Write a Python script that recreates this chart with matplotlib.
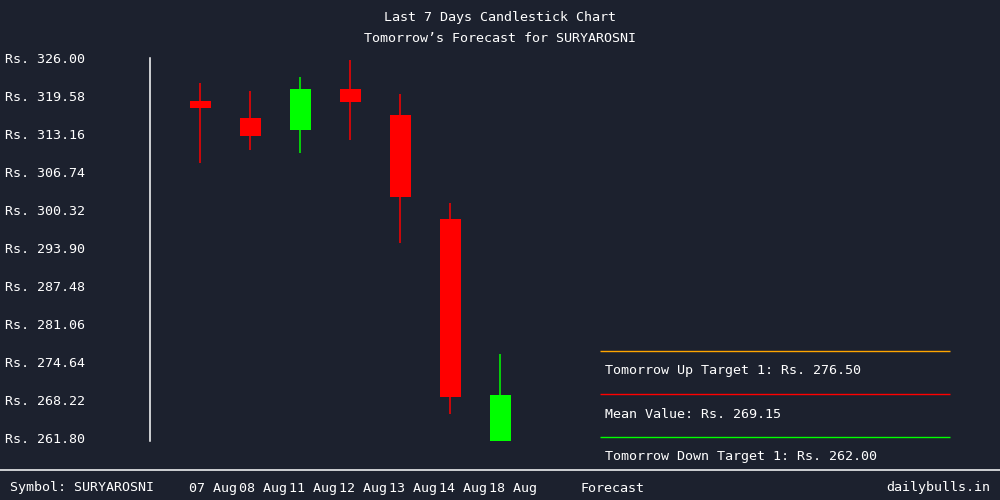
import matplotlib
matplotlib.use("Agg")
import matplotlib.pyplot as plt
import matplotlib.transforms as mtransforms
import numpy as np

# candle data
dates = ["07 Aug", "08 Aug", "11 Aug", "12 Aug", "13 Aug", "14 Aug", "18 Aug"]
opens = [318.74, 315.86, 313.84, 320.76, 316.37, 298.80, 261.34]
closes = [317.55, 312.87, 320.76, 318.57, 302.57, 268.78, 269.06]
highs = [321.78, 320.42, 322.79, 325.66, 319.92, 301.50, 276.00]
lows = [308.26, 310.51, 309.95, 312.20, 294.80, 265.90, 261.34]

up_target = 276.50
mean_value = 269.15
down_target = 262.00
symbol = "SURYAROSNI"

bg = "#1c212e"
plt.rcParams["font.family"] = ["DejaVu Sans Mono"]
fs = 9.6

fig = plt.figure(figsize=(10, 5), dpi=100, facecolor=bg)
ax = fig.add_axes([0.15, 1 - 440.7 / 500, 0.8, (440.7 - 58) / 500])
ax.set_facecolor(bg)

x = np.arange(len(dates))
for i in range(len(dates)):
    col = "#00ff00" if closes[i] >= opens[i] else "#ff0000"
    ax.vlines(x[i], lows[i], highs[i], color=col, lw=1.1)
    ax.bar(x[i], abs(closes[i] - opens[i]), bottom=min(opens[i], closes[i]),
           width=0.42, color=col)

ax.set_xlim(-1, 15)
ax.set_ylim(261.34, 326.0)

# forecast lines and labels
for val, col, txt in [(up_target, "#ffa500", "Tomorrow Up Target 1: Rs. %.2f" % up_target),
                      (mean_value, "#ff0000", "Mean Value: Rs. %.2f" % mean_value),
                      (down_target, "#00ff00", "Tomorrow Down Target 1: Rs. %.2f" % down_target)]:
    ax.hlines(val, 8, 15, color=col, lw=1, clip_on=False)
    off = mtransforms.ScaledTranslation(0, -20 / 100, fig.dpi_scale_trans)
    ax.text(8.1, val, txt, color="white", fontsize=fs, va="center", ha="left",
            transform=ax.transData + off, clip_on=False)

# y ticks
yt = np.linspace(261.8, 326.0, 11)
ax.set_yticks(yt)
ax.set_yticklabels(["Rs. %.2f" % v for v in yt])
ax.tick_params(axis="y", length=0, pad=104.4, colors="white", labelsize=fs)
for lab in ax.get_yticklabels():
    lab.set_horizontalalignment("left")

# x ticks
ax.set_xticks(list(x) + [8])
ax.set_xticklabels(dates + ["Forecast"])
ax.tick_params(axis="x", length=0, pad=29.5, colors="white", labelsize=fs)
shift = mtransforms.ScaledTranslation(13 / 100, 0, fig.dpi_scale_trans)
for lab in ax.get_xticklabels():
    lab.set_transform(lab.get_transform() + shift)

for s in ["top", "right", "bottom"]:
    ax.spines[s].set_visible(False)
ax.spines["left"].set_color("white")
ax.spines["left"].set_linewidth(1.1)

fig.text(0.5, 1 - 18 / 500, "Last 7 Days Candlestick Chart", color="white",
         fontsize=fs, ha="center", va="center")
fig.text(0.5, 1 - 38 / 500, "Tomorrow\u2019s Forecast for " + symbol, color="white",
         fontsize=fs, ha="center", va="center")

fig.add_artist(plt.Line2D([0, 1], [1 - 470 / 500] * 2, color="white", lw=1.1,
                          transform=fig.transFigure))
fig.text(0.01, 1 - 488 / 500, "Symbol: " + symbol, color="white", fontsize=fs,
         ha="left", va="center")
fig.text(0.99, 1 - 488 / 500, "dailybulls.in", color="white", fontsize=fs,
         ha="right", va="center")

fig.savefig("out.png", dpi=100, facecolor=bg)
